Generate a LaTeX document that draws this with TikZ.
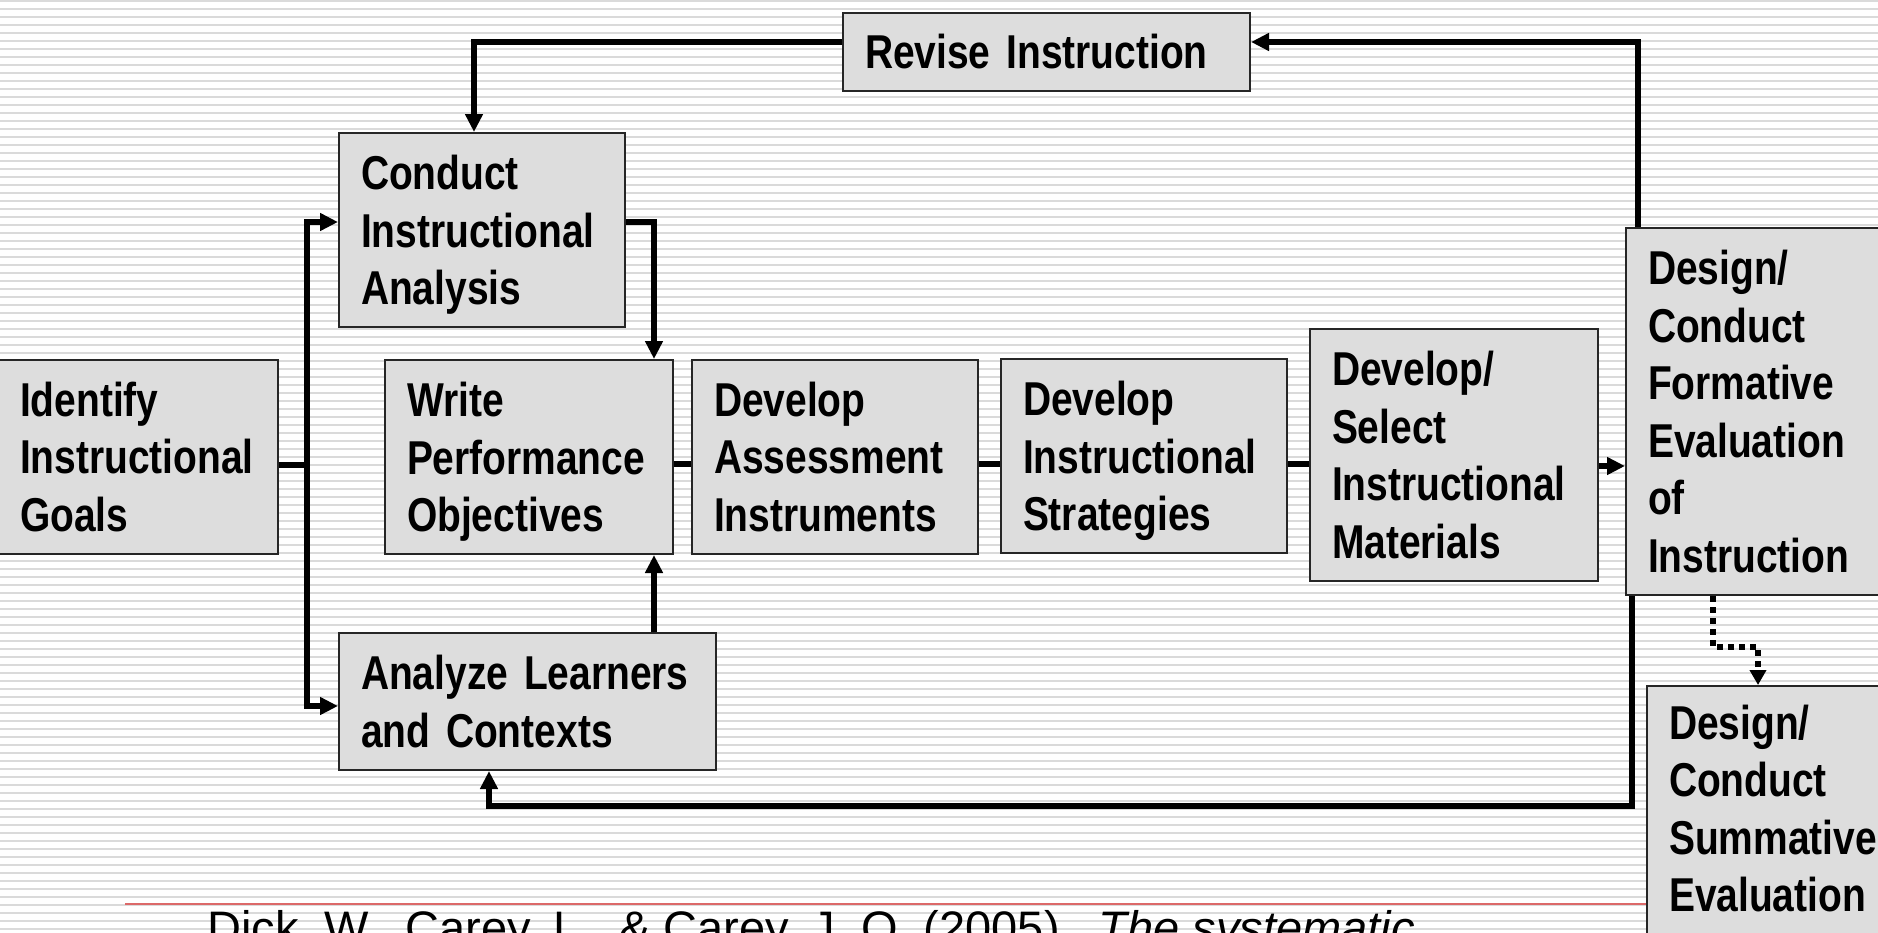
\documentclass[tikz,border=0pt]{standalone}
\usepackage{fontspec}
\setmainfont{Liberation Sans}
\newfontfamily\narrowfont{Liberation Sans}[FakeStretch=0.82]
\usetikzlibrary{arrows.meta}
\definecolor{boxgray}{RGB}{221,221,221}
\definecolor{stripe}{RGB}{218,218,218}
\definecolor{redline}{RGB}{220,105,105}
\newcommand{\bxfont}{\narrowfont\bfseries\fontsize{23.75pt}{28.75pt}\selectfont\spaceskip=0.23em\relax}
\newcommand{\citefont}{\fontsize{23.5pt}{28pt}\selectfont}
\begin{document}
\begin{tikzpicture}[x=0.5pt,y=-0.5pt,
  >={Triangle[length=9pt,width=8.5pt]},
  box/.style={draw=black!85, line width=1pt, fill=boxgray, anchor=north west,
    align=left, inner xsep=11pt, inner ysep=0pt, font=\bxfont},
  conn/.style={line width=3pt},
  dotconn/.style={line width=2.8pt, dash pattern=on 3pt off 2.5pt,
    >={Triangle[length=7.5pt,width=8pt]}}]
\useasboundingbox (0,0) rectangle (1878,932);
\clip (0,0) rectangle (1878,932);
\fill[white] (0,0) rectangle (1878,932);
\foreach \yy in {1,9,...,929} \draw[stripe, line width=1pt] (0,\yy) -- (1878,\yy);

% footer
\draw[redline, line width=1pt] (125,904) -- (1646,904);
\node[anchor=base west, inner sep=0pt, font=\citefont] (cite) at (207,944)
  {Dick, W., Carey, L., \& Carey, J. O. (2005).\ \ \textit{The systematic}};

% boxes
\node[box, text width=181.5pt, minimum height=39pt] (ri) at (842,12) {Revise Instruction};
\node[box, text width=121pt, minimum height=97pt] (ca) at (338,132) {Conduct\\Instructional\\\smash{Analysis}};
\node[box, text width=118pt, minimum height=97pt] (id) at (-3,359) {Identify\\Instructional\\Goals};
\node[box, text width=122pt, minimum height=97pt] (wpo) at (384,359) {Write\\Performance\\\smash{Objectives}};
\node[box, text width=121pt, minimum height=97pt] (da) at (691,359) {Develop\\Assessment\\Instruments};
\node[box, text width=121pt, minimum height=97pt] (ds) at (1000,358) {Develop\\Instructional\\\smash{Strategies}};
\node[box, text width=122pt, minimum height=126pt] (dm) at (1309,328) {Develop/\\Select\\Instructional\\Materials};
\node[box, text width=128pt, minimum height=183.5pt] (fe) at (1625,227) {Design/\\Conduct\\Formative\\Evaluation\\of\\Instruction};
\node[box, text width=166.5pt, minimum height=68.5pt] (al) at (338,632) {Analyze Learners\\and Contexts};
\node[box, text width=128pt, inner ysep=9.5pt] (se) at (1646,685) {Design/\\Conduct\\Summative\\Evaluation\rule[-20pt]{0pt}{0pt}};

% connector points
\coordinate (bustop) at (307,222);
\coordinate (busbot) at (307,706);
\coordinate (busmid) at (307,465);
\coordinate (cw) at (654,222);
\coordinate (rtop) at (1638,42);
\coordinate (rleft) at (474,42);
\coordinate (bl1) at (1632,806);
\coordinate (bl2) at (489,806);
\coordinate (d1) at (1713,647);
\coordinate (d2) at (1758,647);
\coordinate (row) at (0,464);
\coordinate (row2) at (0,466);

% connectors
\draw[conn] (id.east |- busmid) -- (busmid);
\draw[conn,<->] (ca.west |- bustop) -- (bustop) -- (busbot) -- (al.west |- busbot);
\draw[conn,->] (ca.east |- cw) -- (cw) -- (cw |- wpo.north);
\draw[conn,->] (cw |- al.north) -- (cw |- wpo.south);
\draw[conn] (wpo.east |- row) -- (da.west |- row);
\draw[conn] (da.east |- row) -- (ds.west |- row);
\draw[conn] (ds.east |- row) -- (dm.west |- row);
\draw[conn,->] (dm.east |- row2) -- (fe.west |- row2);
\draw[conn,->] (fe.north -| rtop) -- (rtop) -- (ri.east |- rtop);
\draw[conn,->] (ri.west |- rleft) -- (rleft) -- (rleft |- ca.north);
\draw[conn,->] (fe.south -| bl1) -- (bl1) -- (bl2) -- (bl2 |- al.south);
\draw[dotconn,->] (fe.south -| d1) -- (d1) -- (d2) -- (d2 |- se.north);
\end{tikzpicture}
\end{document}
